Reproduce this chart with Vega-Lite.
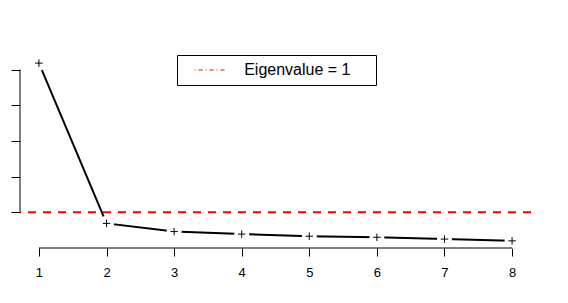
{
  "$schema": "https://vega.github.io/schema/vega-lite/v6.json",
  "width": 511,
  "height": 192,
  "autosize": {"type": "none"},
  "padding": {"left": 20, "top": 56, "right": 37, "bottom": 55},
  "background": "white",
  "config": {"view": {"stroke": null}, "font": "Liberation Sans"},
  "datasets": {
    "eig": [
      {"component": 1, "eigenvalue": 5.18},
      {"component": 2, "eigenvalue": 0.69},
      {"component": 3, "eigenvalue": 0.46},
      {"component": 4, "eigenvalue": 0.39},
      {"component": 5, "eigenvalue": 0.33},
      {"component": 6, "eigenvalue": 0.30},
      {"component": 7, "eigenvalue": 0.25},
      {"component": 8, "eigenvalue": 0.20}
    ],
    "ref": [{"value": 1, "label": "Eigenvalue = 1"}]
  },
  "layer": [
    {
      "data": {"name": "eig"},
      "mark": {"type": "line", "color": "black", "strokeWidth": 2},
      "encoding": {
        "x": {
          "field": "component", "type": "quantitative",
          "scale": {"domain": [0.72, 8.28], "nice": false, "zero": false},
          "axis": {
            "values": [1, 2, 3, 4, 5, 6, 7, 8], "format": "d", "domain": false, "grid": false,
            "tickSize": 8, "tickColor": "black", "labelColor": "black", "labelFontSize": 13,
            "labelFont": "Liberation Sans", "labelPadding": 10, "title": null
          }
        },
        "y": {
          "field": "eigenvalue", "type": "quantitative",
          "scale": {"domain": [0, 5.38], "nice": false, "zero": false},
          "axis": {
            "values": [1, 2, 3, 4, 5], "labels": false, "domain": false, "grid": false,
            "tickSize": 9, "tickColor": "black", "title": null
          }
        }
      }
    },
    {
      "data": {"name": "eig"},
      "mark": {"type": "point", "shape": "circle", "filled": true, "color": "white", "size": 227, "opacity": 1},
      "encoding": {
        "x": {"field": "component", "type": "quantitative"},
        "y": {"field": "eigenvalue", "type": "quantitative"}
      }
    },
    {
      "data": {"name": "eig"},
      "mark": {"type": "point", "shape": "M-1,0H1M0,-1V1", "filled": false, "stroke": "black", "strokeWidth": 1, "size": 56, "opacity": 1},
      "encoding": {
        "x": {"field": "component", "type": "quantitative"},
        "y": {"field": "eigenvalue", "type": "quantitative"}
      }
    },
    {
      "data": {"name": "ref"},
      "mark": {"type": "rule", "strokeDash": [8, 7], "strokeWidth": 2},
      "encoding": {
        "y": {"field": "value", "type": "quantitative"},
        "color": {
          "field": "label", "type": "nominal",
          "scale": {"range": ["red"]},
          "legend": {
            "orient": "none", "legendX": 157, "legendY": -1, "title": null,
            "strokeColor": "black", "fillColor": "white", "padding": 7,
            "symbolType": "M-2.5,0H2.5", "symbolSize": 164, "symbolStrokeWidth": 1,
            "symbolDash": [1, 3, 4, 3], "symbolOffset": 18.6,
            "labelFontSize": 16, "labelFont": "Liberation Sans", "labelColor": "black",
            "labelOffset": 25.6, "labelExpr": "datum.label + '\u00a0\u00a0\u00a0\u00a0\u200b'",
            "encode": {"symbols": {"update": {"strokeDash": {"value": [1, 3, 4, 3]}, "strokeWidth": {"value": 1}}}}
          }
        }
      }
    },
    {
      "data": {"name": "ref"},
      "mark": {"type": "rule", "color": "black", "strokeWidth": 1},
      "encoding": {
        "x": {"datum": 1},
        "x2": {"datum": 8},
        "y": {"value": "height"}
      }
    },
    {
      "data": {"name": "ref"},
      "mark": {"type": "rule", "color": "black", "strokeWidth": 1},
      "encoding": {
        "x": {"value": 0},
        "y": {"datum": 1},
        "y2": {"datum": 5}
      }
    }
  ]
}
